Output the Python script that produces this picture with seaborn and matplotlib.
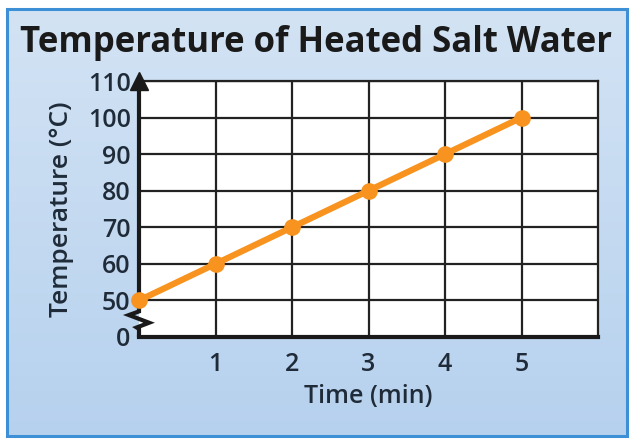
import numpy as np
import pandas as pd
import matplotlib
matplotlib.use("Agg")
import matplotlib.pyplot as plt
import seaborn as sns
from matplotlib.patches import Rectangle

# data
time_min = [0, 1, 2, 3, 4, 5]
temp_c = [50, 60, 70, 80, 90, 100]
x_ticks = [1, 2, 3, 4, 5]
y_ticks = [40, 50, 60, 70, 80, 90, 100, 110]
y_labels = ["0", "50", "60", "70", "80", "90", "100", "110"]

df = pd.DataFrame({"Time (min)": time_min, "Temperature (°C)": temp_c})

sns.set_style("white")
plt.rcParams["font.family"] = ["Open Sans", "DejaVu Sans"]

fig = plt.figure(figsize=(6.31, 4.40), dpi=100)
fig.patch.set_facecolor("white")

# light blue panel with gradient and blue frame
bg = fig.add_axes([0, 0, 1, 1], zorder=-10)
bg.set_xlim(0, 631)
bg.set_ylim(440, 0)
bg.axis("off")
grad = np.linspace(0, 1, 256).reshape(-1, 1)
cmap = matplotlib.colors.LinearSegmentedColormap.from_list("bg", ["#d3e3f4", "#b6d1ee"])
bg.imshow(grad, extent=[7, 627, 436, 9], cmap=cmap, aspect="auto")
bg.add_patch(Rectangle((7, 9), 620, 427, fill=False, edgecolor="#3d8fd6", lw=2.2))

ax = fig.add_axes([139 / 631, 1 - 337 / 440, (598 - 139) / 631, (337 - 81) / 440])
ax.set_facecolor("white")

sns.lineplot(data=df, x="Time (min)", y="Temperature (°C)", ax=ax,
             color="#f7931e", lw=4.5, marker="o", markersize=12,
             markeredgewidth=0, clip_on=False, zorder=5)

ax.set_xlim(0, 6)
ax.set_ylim(40, 110)
ax.set_xticks(x_ticks)
ax.set_yticks(y_ticks)
ax.set_yticklabels(y_labels)
ax.grid(True, color="#222222", lw=1.6)
ax.set_axisbelow(True)
ax.tick_params(axis="both", length=0, labelsize=18, colors="#1f2b38", pad=6)
ax.tick_params(axis="x", pad=11)
for lab in ax.get_xticklabels() + ax.get_yticklabels():
    lab.set_fontweight("semibold")

for side in ["top", "right"]:
    ax.spines[side].set_color("#222222")
    ax.spines[side].set_linewidth(1.6)
ax.spines["bottom"].set_color("#1a1a1a")
ax.spines["bottom"].set_linewidth(3)
ax.spines["left"].set_visible(False)

# y axis with break and arrow (axes coordinates)
k = 1 / 70
ax.plot([0, 0, -0.022, 0.022, -0.005, 0, 0],
        [1.0, 7.0 * k, 6.0 * k, 3.9 * k, 2.6 * k, 2.2 * k, 0],
        transform=ax.transAxes, color="#1a1a1a", lw=3, clip_on=False, zorder=4,
        solid_joinstyle="miter")
ax.plot([0], [1.0], marker="^", markersize=13, color="#1a1a1a",
        transform=ax.transAxes, clip_on=False, zorder=4)

ax.set_xlabel("Time (min)", fontsize=18, fontweight="semibold", color="#1f2b38", labelpad=5)
ax.set_ylabel("Temperature (°C)", fontsize=19, fontweight="semibold", color="#1f2b38", labelpad=10)

fig.text(0.5, 1 - 43 / 440, "Temperature of Heated Salt Water", ha="center", va="center",
         fontsize=25, fontweight="bold", color="#1a1a1a")

fig.savefig("out.png", dpi=100)
